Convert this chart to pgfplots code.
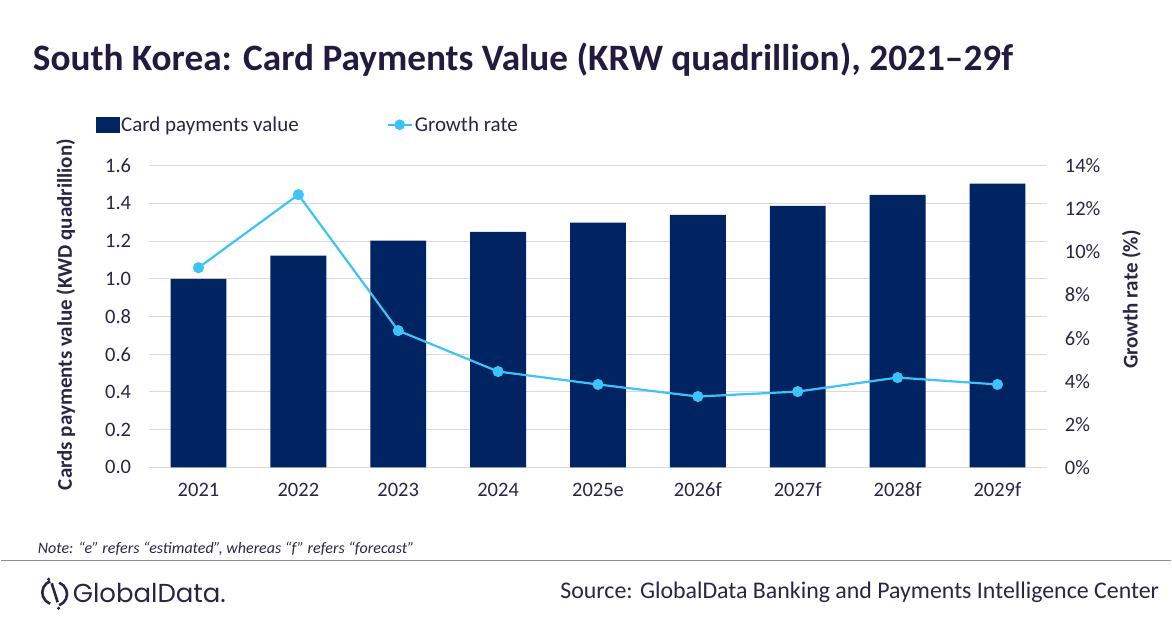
\documentclass[border=0pt]{standalone}
\usepackage{pgfplots}
\pgfplotsset{compat=1.18}
\usepackage{fontspec}
\setmainfont{Carlito}
\newfontfamily\logofont{Poppins}
\definecolor{navy}{HTML}{002361}
\definecolor{sky}{HTML}{3DC3F5}
\definecolor{titlec}{HTML}{231A40}
\definecolor{txt}{HTML}{2B2545}
\definecolor{gridc}{HTML}{D9D9D9}
\begin{document}
\begin{tikzpicture}[x=1pt,y=1pt]
\path[fill=white] (0,0) rectangle (1172,-628);
\node[anchor=west, font=\fontsize{37.3}{40}\selectfont\bfseries, text=titlec, inner sep=0] at (32,-60) {South Korea: Card Payments Value (KRW quadrillion), 2021–29f};

\begin{axis}[at={(148pt,-468pt)}, anchor=south west,
  scale only axis, width=900pt, height=302pt,
  xmin=-0.5, xmax=8.5, ymin=0, ymax=1.6,
  ytick={0,0.2,...,1.6},
  yticklabel style={/pgf/number format/fixed,/pgf/number format/precision=1,/pgf/number format/fixed zerofill, xshift=-14pt},
  /pgf/number format/assume math mode=true,
  xtick={0,...,8},
  xticklabels={2021,2022,2023,2024,2025e,2026f,2027f,2028f,2029f},
  xticklabel style={yshift=-12pt},
  tick label style={font=\fontsize{20.5}{22}\selectfont, text=txt},
  major tick length=0pt,
  axis line style={draw=none},
  ymajorgrids, grid style={gridc, line width=1pt},
  clip=false,
]
\addplot[ybar, bar width=56pt, fill=navy, draw=none] coordinates {
(0,1.000) (1,1.123) (2,1.203) (3,1.250) (4,1.298) (5,1.340) (6,1.388) (7,1.446) (8,1.505)};
\end{axis}

\begin{axis}[at={(148pt,-468pt)}, anchor=south west,
  scale only axis, width=900pt, height=302pt,
  xmin=-0.5, xmax=8.5, ymin=0, ymax=14,
  axis y line*=right, axis x line=none,
  ytick={0,2,...,14},
  yticklabel={\pgfmathprintnumber{\tick}\%},
  yticklabel style={xshift=14pt},
  /pgf/number format/assume math mode=true,
  tick label style={font=\fontsize{20.5}{22}\selectfont, text=txt},
  major tick length=0pt,
  axis line style={draw=none},
  clip=false,
  legend style={at={(rel axis cs:-0.059,1.136)}, anchor=west, draw=none, fill=none,
    font=\fontsize{21}{23}\selectfont, text=txt, inner sep=0pt},
  legend columns=2,
  legend cell align=left,
  /tikz/every even column/.append style={column sep=86pt},
]
\addlegendimage{legend image code/.code={\fill[navy] (0pt,-7.5pt) rectangle (23pt,7.5pt);}}
\addlegendentry{Card payments value}
\addlegendimage{sky, line width=2.2pt, mark=*, mark size=4pt, legend image code/.code={\draw[sky, line width=2.2pt] (0pt,0pt) -- (24pt,0pt); \fill[sky] (12pt,0pt) circle (4.2pt);}}
\addlegendentry{Growth rate}
\addplot[sky, line width=2.2pt, mark=*, mark size=4.4pt, mark options={fill=sky, draw=sky}] coordinates {
(0,9.27) (1,12.66) (2,6.35) (3,4.45) (4,3.85) (5,3.29) (6,3.52) (7,4.17) (8,3.85)};
\end{axis}

\node[rotate=90, font=\fontsize{21}{24}\selectfont\bfseries, text=txt] at (65,-315) {Cards payments value (KWD quadrillion)};
\node[rotate=90, font=\fontsize{21}{24}\selectfont\bfseries, text=txt] at (1132,-300) {Growth rate (\%)};

\node[anchor=west, font=\fontsize{16}{18}\selectfont\itshape, text=txt, inner sep=0] at (37,-549) {Note: “e” refers “estimated”, whereas “f” refers “forecast”};
\draw[color=black!45, line width=1.5pt] (0,-561) -- (1172,-561);

% logo
\begin{scope}[txt, line width=2.6pt]
\draw (49.5,-582) arc (110:250:12);
\draw (58.5,-606) arc (-70:70:12);
\draw (51,-584) -- (57,-603);
\fill (48,-580) circle (1.8);
\fill (58,-609) circle (1.8);
\end{scope}
\node[anchor=west, font=\logofont\fontsize{26}{28}\selectfont, text=txt, inner sep=0] at (72,-594) {GlobalData.};
\node[anchor=east, font=\fontsize{23.9}{26}\selectfont, text=txt, inner sep=0] at (1160,-593) {Source: GlobalData Banking and Payments Intelligence Center};
\end{tikzpicture}
\end{document}
